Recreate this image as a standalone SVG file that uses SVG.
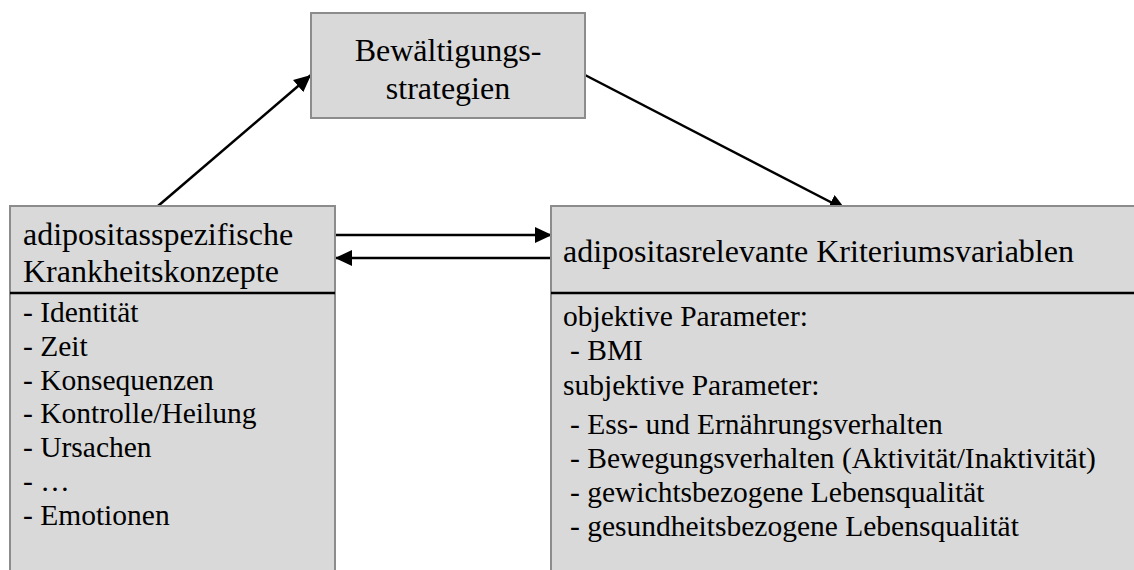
<svg xmlns="http://www.w3.org/2000/svg" width="1134" height="570" viewBox="0 0 1134 570">
  <style>
    .box { fill: #d9d9d9; stroke: #8c8c8c; stroke-width: 2; }
    .rule { stroke: #000; stroke-width: 2.5; }
    .edge { stroke: #000; stroke-width: 2.5; fill: none; }
    .head { font-size: 32px; }
    .item { font-size: 29.5px; }
  </style>
  <defs>
    <marker id="arrow" markerUnits="userSpaceOnUse" markerWidth="18" markerHeight="16" refX="17" refY="8" orient="auto">
      <path d="M0,0 L17,8 L0,16 Z" fill="#000"/>
    </marker>
  </defs>

  <!-- connectors (drawn first so box fills sit on top of them) -->
  <g id="connectors">
    <line class="edge" x1="158" y1="206" x2="311" y2="75" marker-end="url(#arrow)"/>
    <line class="edge" x1="585" y1="75" x2="846" y2="210" marker-end="url(#arrow)"/>
    <line class="edge" x1="336" y1="235" x2="552" y2="235" marker-end="url(#arrow)"/>
    <line class="edge" x1="551" y1="258" x2="335" y2="258" marker-end="url(#arrow)"/>
  </g>

  <!-- coping strategies -->
  <g id="strategien" font-family="Liberation Serif, Times New Roman, serif">
    <rect class="box" x="311" y="13" width="274" height="105"/>
    <text class="head" x="448" y="61" text-anchor="middle">Bewältigungs-</text>
    <text class="head" x="448" y="99" text-anchor="middle">strategien</text>
  </g>

  <!-- illness concepts -->
  <g id="krankheitskonzepte" font-family="Liberation Serif, Times New Roman, serif">
    <rect class="box" x="10" y="206" width="325" height="380"/>
    <line class="rule" x1="10" y1="293" x2="335" y2="293"/>
    <text class="head" x="23" y="245">adipositasspezifische</text>
    <text class="head" x="23" y="282">Krankheitskonzepte</text>
    <text class="item" x="23" y="322">- Identität</text>
    <text class="item" x="23" y="356">- Zeit</text>
    <text class="item" x="23" y="390">- Konsequenzen</text>
    <text class="item" x="23" y="423">- Kontrolle/Heilung</text>
    <text class="item" x="23" y="457">- Ursachen</text>
    <text class="item" x="23" y="491">- …</text>
    <text class="item" x="23" y="525">- Emotionen</text>
  </g>

  <!-- criterion variables -->
  <g id="kriteriumsvariablen" font-family="Liberation Serif, Times New Roman, serif">
    <rect class="box" x="551" y="206" width="600" height="380"/>
    <line class="rule" x1="551" y1="293" x2="1134" y2="293"/>
    <text class="head" x="563" y="262">adipositasrelevante Kriteriumsvariablen</text>
    <text class="item" x="563" y="326">objektive Parameter:</text>
    <text class="item" x="570" y="360">- BMI</text>
    <text class="item" x="563" y="395">subjektive Parameter:</text>
    <text class="item" x="570" y="434">- Ess- und Ernährungsverhalten</text>
    <text class="item" x="570" y="468">- Bewegungsverhalten (Aktivität/Inaktivität)</text>
    <text class="item" x="570" y="502">- gewichtsbezogene Lebensqualität</text>
    <text class="item" x="570" y="536">- gesundheitsbezogene Lebensqualität</text>
  </g>
</svg>
